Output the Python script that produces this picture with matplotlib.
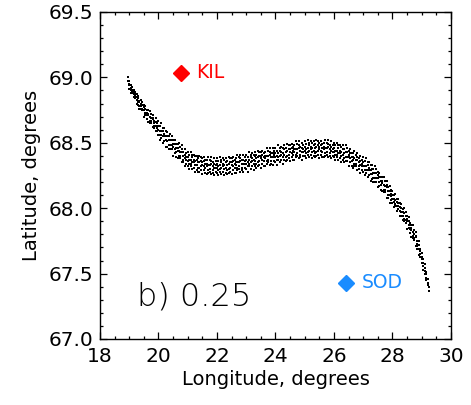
"""
Scatter of the footprint track (latitude vs. longitude) with the
KIL and SOD stations marked.
"""
import matplotlib
matplotlib.use("Agg")
import matplotlib.pyplot as plt
from matplotlib.ticker import MultipleLocator

# Track samples: (longitude, latitude, latitude, ...) per longitude bin
track_rows = [
    (18.95, 69.00, 68.97),
    (19.00, 68.91, 68.95, 68.97, 68.94),
    (19.05, 68.94, 68.90, 68.92, 68.88),
    (19.10, 68.89, 68.93, 68.90, 68.88),
    (19.15, 68.89, 68.85, 68.90, 68.87),
    (19.20, 68.86, 68.84, 68.89, 68.87),
    (19.25, 68.80, 68.85, 68.83, 68.87),
    (19.30, 68.86, 68.81, 68.84, 68.79),
    (19.35, 68.78, 68.82, 68.76, 68.81),
    (19.40, 68.80, 68.76, 68.83, 68.78),
    (19.45, 68.76, 68.79, 68.75, 68.81),
    (19.50, 68.79, 68.70, 68.77, 68.75),
    (19.55, 68.71, 68.78, 68.73, 68.76),
    (19.60, 68.73, 68.71, 68.75, 68.68),
    (19.65, 68.66, 68.75, 68.71, 68.72),
    (19.70, 68.74, 68.67, 68.65, 68.70),
    (19.75, 68.67, 68.69, 68.72, 68.65),
    (19.80, 68.69, 68.62, 68.68, 68.71),
    (19.85, 68.61, 68.65, 68.67, 68.63),
    (19.90, 68.66, 68.69, 68.59, 68.63),
    (19.95, 68.61, 68.59, 68.65, 68.63),
    (20.00, 68.56, 68.63, 68.67, 68.60),
    (20.05, 68.63, 68.56, 68.59, 68.52),
    (20.10, 68.56, 68.65, 68.59, 68.54),
    (20.15, 68.59, 68.50, 68.61, 68.55),
    (20.20, 68.55, 68.51, 68.61, 68.57),
    (20.25, 68.47, 68.55, 68.52, 68.59),
    (20.30, 68.58, 68.51, 68.55, 68.47),
    (20.35, 68.48, 68.55, 68.45, 68.52),
    (20.40, 68.52, 68.45, 68.57, 68.48),
    (20.45, 68.48, 68.52, 68.45, 68.55),
    (20.50, 68.52, 68.40, 68.49, 68.47),
    (20.55, 68.42, 68.52, 68.45, 68.49),
    (20.60, 68.46, 68.43, 68.49, 68.39),
    (20.65, 68.38, 68.49, 68.44, 68.46),
    (20.70, 68.50, 68.40, 68.38, 68.44),
    (20.75, 68.40, 68.43, 68.47, 68.38),
    (20.80, 68.45, 68.35, 68.43, 68.48),
    (20.85, 68.35, 68.40, 68.43, 68.37),
    (20.90, 68.41, 68.45, 68.32, 68.38),
    (20.95, 68.37, 68.34, 68.42, 68.39),
    (21.00, 68.32, 68.39, 68.43, 68.36),
    (21.05, 68.41, 68.34, 68.37, 68.30),
    (21.10, 68.34, 68.43, 68.37, 68.32),
    (21.15, 68.39, 68.30, 68.41, 68.35),
    (21.20, 68.35, 68.31, 68.41, 68.37),
    (21.25, 68.28, 68.36, 68.33, 68.40),
    (21.30, 68.40, 68.33, 68.37, 68.29),
    (21.35, 68.31, 68.38, 68.28, 68.35),
    (21.40, 68.35, 68.28, 68.40, 68.31),
    (21.45, 68.32, 68.36, 68.29, 68.39),
    (21.50, 68.38, 68.26, 68.35, 68.33),
    (21.55, 68.29, 68.39, 68.32, 68.36),
    (21.60, 68.34, 68.31, 68.37, 68.27),
    (21.65, 68.26, 68.37, 68.32, 68.34),
    (21.70, 68.39, 68.29, 68.27, 68.33),
    (21.75, 68.30, 68.33, 68.37, 68.28),
    (21.80, 68.36, 68.26, 68.34, 68.39),
    (21.85, 68.27, 68.32, 68.35, 68.29),
    (21.90, 68.34, 68.38, 68.25, 68.31),
    (21.95, 68.31, 68.28, 68.36, 68.33),
    (22.00, 68.27, 68.34, 68.38, 68.31),
    (22.05, 68.36, 68.29, 68.32, 68.25),
    (22.10, 68.30, 68.39, 68.33, 68.28),
    (22.15, 68.35, 68.26, 68.37, 68.31),
    (22.20, 68.32, 68.28, 68.38, 68.34),
    (22.25, 68.25, 68.33, 68.30, 68.37),
    (22.30, 68.38, 68.31, 68.35, 68.27),
    (22.35, 68.29, 68.36, 68.26, 68.33),
    (22.40, 68.34, 68.27, 68.39, 68.30),
    (22.45, 68.31, 68.35, 68.28, 68.38),
    (22.50, 68.38, 68.26, 68.35, 68.33),
    (22.55, 68.29, 68.39, 68.32, 68.36),
    (22.60, 68.34, 68.31, 68.37, 68.27),
    (22.65, 68.27, 68.38, 68.33, 68.35),
    (22.70, 68.41, 68.31, 68.29, 68.35),
    (22.75, 68.32, 68.35, 68.39, 68.30),
    (22.80, 68.38, 68.28, 68.36, 68.41),
    (22.85, 68.29, 68.34, 68.37, 68.31),
    (22.90, 68.37, 68.41, 68.28, 68.34),
    (22.95, 68.34, 68.31, 68.39, 68.36),
    (23.00, 68.30, 68.37, 68.41, 68.34),
    (23.05, 68.39, 68.32, 68.35, 68.28),
    (23.10, 68.34, 68.43, 68.37, 68.32),
    (23.15, 68.39, 68.30, 68.41, 68.35),
    (23.20, 68.36, 68.32, 68.42, 68.38),
    (23.25, 68.29, 68.37, 68.34, 68.41),
    (23.30, 68.43, 68.36, 68.40, 68.32),
    (23.35, 68.34, 68.41, 68.31, 68.38),
    (23.40, 68.39, 68.32, 68.44, 68.35),
    (23.45, 68.36, 68.40, 68.33, 68.43),
    (23.50, 68.43, 68.31, 68.40, 68.38),
    (23.55, 68.34, 68.44, 68.37, 68.41),
    (23.60, 68.39, 68.36, 68.42, 68.32),
    (23.65, 68.32, 68.43, 68.38, 68.40),
    (23.70, 68.46, 68.36, 68.34, 68.40),
    (23.75, 68.37, 68.40, 68.44, 68.35),
    (23.80, 68.43, 68.33, 68.41, 68.46),
    (23.85, 68.34, 68.39, 68.42, 68.36),
    (23.90, 68.42, 68.46, 68.33, 68.39),
    (23.95, 68.39, 68.36, 68.44, 68.41),
    (24.00, 68.35, 68.42, 68.46, 68.39),
    (24.05, 68.44, 68.37, 68.40, 68.33),
    (24.10, 68.39, 68.48, 68.42, 68.37),
    (24.15, 68.44, 68.35, 68.46, 68.40),
    (24.20, 68.41, 68.37, 68.47, 68.43),
    (24.25, 68.34, 68.42, 68.39, 68.46),
    (24.30, 68.48, 68.41, 68.45, 68.37),
    (24.35, 68.39, 68.46, 68.36, 68.43),
    (24.40, 68.44, 68.37, 68.49, 68.40),
    (24.45, 68.41, 68.45, 68.38, 68.48),
    (24.50, 68.48, 68.36, 68.45, 68.43),
    (24.55, 68.39, 68.49, 68.42, 68.46),
    (24.60, 68.44, 68.41, 68.47, 68.37),
    (24.65, 68.37, 68.48, 68.43, 68.45),
    (24.70, 68.51, 68.41, 68.39, 68.45),
    (24.75, 68.42, 68.45, 68.49, 68.40),
    (24.80, 68.48, 68.38, 68.46, 68.51),
    (24.85, 68.39, 68.44, 68.47, 68.41),
    (24.90, 68.46, 68.50, 68.37, 68.43),
    (24.95, 68.43, 68.40, 68.48, 68.45),
    (25.00, 68.40, 68.47, 68.51, 68.44),
    (25.05, 68.49, 68.42, 68.45, 68.38),
    (25.10, 68.43, 68.52, 68.46, 68.41),
    (25.15, 68.48, 68.39, 68.50, 68.44),
    (25.20, 68.45, 68.41, 68.51, 68.47),
    (25.25, 68.38, 68.46, 68.43, 68.50),
    (25.30, 68.51, 68.44, 68.48, 68.40),
    (25.35, 68.42, 68.49, 68.39, 68.46),
    (25.40, 68.47, 68.40, 68.52, 68.43),
    (25.45, 68.44, 68.48, 68.41, 68.51),
    (25.50, 68.50, 68.38, 68.47, 68.45),
    (25.55, 68.41, 68.51, 68.44, 68.48),
    (25.60, 68.46, 68.43, 68.49, 68.39),
    (25.65, 68.39, 68.50, 68.45, 68.47),
    (25.70, 68.52, 68.42, 68.40, 68.46),
    (25.75, 68.43, 68.46, 68.50, 68.41),
    (25.80, 68.49, 68.39, 68.47, 68.52),
    (25.85, 68.40, 68.45, 68.48, 68.42),
    (25.90, 68.47, 68.51, 68.38, 68.44),
    (25.95, 68.43, 68.40, 68.48, 68.45),
    (26.00, 68.39, 68.46, 68.50, 68.43),
    (26.05, 68.48, 68.41, 68.44, 68.37),
    (26.10, 68.41, 68.50, 68.44, 68.39),
    (26.15, 68.46, 68.37, 68.48, 68.42),
    (26.20, 68.42, 68.38, 68.48, 68.44),
    (26.25, 68.35, 68.43, 68.40, 68.47),
    (26.30, 68.48, 68.41, 68.45, 68.37),
    (26.35, 68.38, 68.45, 68.35, 68.42),
    (26.40, 68.43, 68.36, 68.48, 68.39),
    (26.45, 68.39, 68.43, 68.36, 68.46),
    (26.50, 68.44, 68.32, 68.41, 68.39),
    (26.55, 68.35, 68.45, 68.38, 68.42),
    (26.60, 68.39, 68.36, 68.42, 68.32),
    (26.65, 68.31, 68.42, 68.37, 68.39),
    (26.70, 68.44, 68.34, 68.32, 68.38),
    (26.75, 68.34, 68.37, 68.41, 68.32),
    (26.80, 68.39, 68.29, 68.37, 68.42),
    (26.85, 68.30, 68.35, 68.38, 68.32),
    (26.90, 68.36, 68.40, 68.27, 68.33),
    (26.95, 68.32, 68.29, 68.37, 68.34),
    (27.00, 68.28, 68.35, 68.39, 68.32),
    (27.05, 68.36, 68.29, 68.32, 68.25),
    (27.10, 68.29, 68.38, 68.32, 68.27),
    (27.15, 68.33, 68.24, 68.35, 68.29),
    (27.20, 68.29, 68.25, 68.35, 68.31),
    (27.25, 68.21, 68.29, 68.26, 68.33),
    (27.30, 68.33, 68.26, 68.30, 68.22),
    (27.35, 68.23, 68.30, 68.20, 68.27),
    (27.40, 68.27, 68.20, 68.32, 68.23),
    (27.45, 68.23, 68.27, 68.20, 68.30),
    (27.50, 68.28, 68.16, 68.25, 68.23),
    (27.55, 68.17, 68.27, 68.20, 68.24),
    (27.60, 68.21, 68.18, 68.24, 68.14),
    (27.65, 68.13, 68.24, 68.19, 68.21),
    (27.70, 68.24, 68.14, 68.12, 68.18),
    (27.75, 68.14, 68.17, 68.21, 68.12),
    (27.80, 68.18, 68.08, 68.16, 68.21),
    (27.85, 68.08, 68.13, 68.16, 68.10),
    (27.90, 68.13, 68.17, 68.04, 68.10),
    (27.95, 68.09, 68.06, 68.14, 68.11),
    (28.00, 68.04, 68.10, 68.13, 68.07),
    (28.05, 68.10, 68.05, 68.07, 68.01),
    (28.10, 68.03, 68.11, 68.06, 68.02),
    (28.15, 68.05, 67.98, 68.07, 68.02),
    (28.20, 68.02, 67.99, 68.07, 68.04),
    (28.25, 67.94, 68.01, 67.98, 68.04),
    (28.30, 68.03, 67.97, 68.00, 67.94),
    (28.35, 67.94, 67.99, 67.91, 67.97),
    (28.40, 67.96, 67.90, 68.00, 67.92),
    (28.45, 67.91, 67.94, 67.89, 67.97),
    (28.50, 67.94, 67.84, 67.92, 67.90),
    (28.55, 67.85, 67.93, 67.87, 67.90),
    (28.60, 67.87, 67.84, 67.89, 67.81),
    (28.65, 67.78, 67.87, 67.83, 67.85),
    (28.70, 67.87, 67.79, 67.77, 67.82),
    (28.75, 67.77, 67.80, 67.83, 67.76),
    (28.80, 67.79, 67.71, 67.78, 67.82),
    (28.85, 67.69, 67.73, 67.75, 67.71),
    (28.90, 67.72, 67.75, 67.64, 67.69),
    (28.95, 67.65, 67.63, 67.69, 67.67),
    (29.00, 67.58, 67.63, 67.66, 67.61),
    (29.05, 67.61, 67.56, 67.58, 67.53),
    (29.10, 67.52, 67.57, 67.54, 67.50),
    (29.15, 67.50, 67.45, 67.51, 67.47),
    (29.20, 67.43, 67.41, 67.46),
    (29.25, 67.40, 67.37),
]

# Ground stations
station_names = ["KIL", "SOD"]
station_lon = [20.77, 26.41]
station_lat = [69.03, 67.43]
station_colors = ["#ff0000", "#1a8cff"]

panel_label = "b) 0.25"

track_lon = []
track_lat = []
for row in track_rows:
    for lat in row[1:]:
        track_lon.append(row[0])
        track_lat.append(lat)

plt.rcParams["font.family"] = "DejaVu Sans"

fig = plt.figure(figsize=(4.71, 4.05), dpi=100)
ax = fig.add_axes([0.2123, 0.163, 0.7452, 0.8074])

ax.scatter(track_lon, track_lat, s=1.5, marker="s", color="black", linewidths=0)

for name, lon, lat, col in zip(station_names, station_lon, station_lat, station_colors):
    ax.plot(lon, lat, marker="D", markersize=8.5, color=col, linestyle="none")
    ax.annotate(name, (lon, lat), xytext=(11, 0.5), textcoords="offset points",
                color=col, fontsize=13.5, va="center", ha="left")

ax.text(0.105, 0.13, panel_label, transform=ax.transAxes, fontsize=23,
        fontweight="light", ha="left", va="center")

ax.set_xlim(18, 30)
ax.set_ylim(67.0, 69.5)
ax.xaxis.set_major_locator(MultipleLocator(2))
ax.xaxis.set_minor_locator(MultipleLocator(0.5))
ax.yaxis.set_major_locator(MultipleLocator(0.5))
ax.yaxis.set_minor_locator(MultipleLocator(0.1))
ax.yaxis.set_major_formatter(plt.FormatStrFormatter("%.1f"))

ax.tick_params(which="both", direction="in", top=True, right=True,
               labelsize=14.5, width=0.9)
ax.tick_params(axis="x", pad=6)
ax.tick_params(axis="y", pad=5)
ax.tick_params(which="major", length=5)
ax.tick_params(which="minor", length=2.5)
for sp in ax.spines.values():
    sp.set_linewidth(1.0)

ax.set_xlabel("Longitude, degrees", fontsize=14, labelpad=3)
ax.set_ylabel("Latitude, degrees", fontsize=14, labelpad=5)

fig.savefig("out.png", dpi=100)
plt.close(fig)
